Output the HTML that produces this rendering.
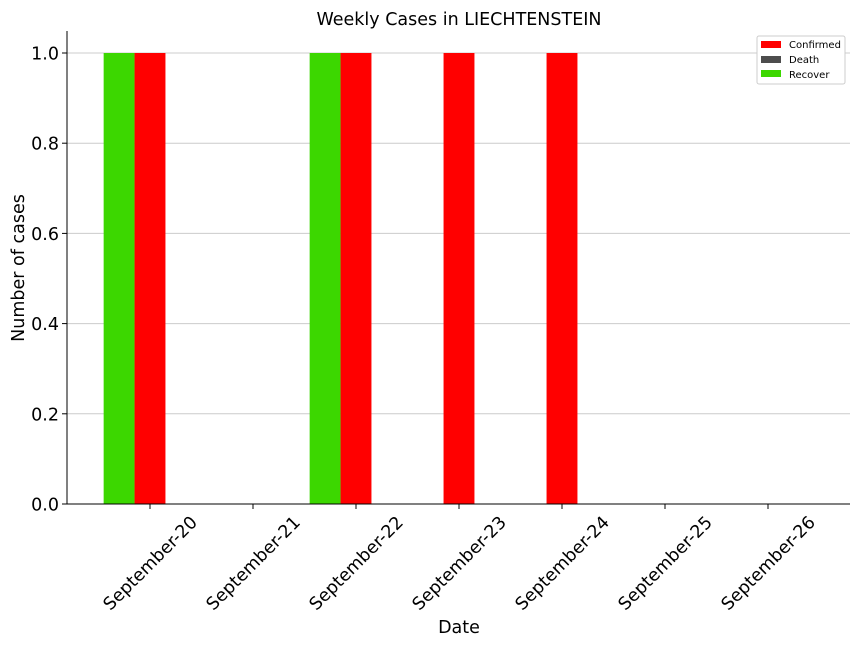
<!DOCTYPE html>
<html><head><meta charset="utf-8"><style>
body{margin:0;background:#fff;}
svg text{font-family:"DejaVu Sans","Liberation Sans",sans-serif;}
</style></head><body>
<svg id="chart" width="864" height="648" xmlns="http://www.w3.org/2000/svg">
<rect width="864" height="648" fill="#fff"/>
<text x="459" y="25" font-size="17.5" text-anchor="middle">Weekly Cases in LIECHTENSTEIN</text>
<g id="grid"></g>
<g id="bars"></g>
<g id="axes"></g>
<text x="459" y="633" font-size="17.5" text-anchor="middle">Date</text>
<text transform="translate(24,268) rotate(-90)" font-size="17.5" text-anchor="middle">Number of cases</text>
<g>
<rect x="757" y="36" width="88" height="48" fill="#fff" stroke="#ccc" rx="2"/>
<rect x="761" y="41" width="20" height="7" fill="#ff0000"/>
<text x="789" y="48" font-size="10">Confirmed</text>
<rect x="761" y="56" width="20" height="7" fill="#4d4d4d"/>
<text x="789" y="63" font-size="10">Death</text>
<rect x="761" y="70" width="20" height="7" fill="#3cd700"/>
<text x="789" y="78" font-size="10">Recover</text>
</g>
</svg>
<script>
const categories=["September-20","September-21","September-22","September-23","September-24","September-25","September-26"];
const confirmed=[1,0,1,1,1,0,0];
const death=[0,0,0,0,0,0,0];
const recover=[1,0,1,0,0,0,0];
const yTicks=[0,0.2,0.4,0.6,0.8,1.0];
const NS="http://www.w3.org/2000/svg";
const L=67,R=850,T=31,B=504;
function y(v){return 504-v*451;}
function x(i){return 150+i*103;}
const bw=30.9;
function mk(t,a,p){const e=document.createElementNS(NS,t);for(const k in a)e.setAttribute(k,a[k]);p.appendChild(e);return e;}
const grid=document.getElementById('grid'),bars=document.getElementById('bars'),axes=document.getElementById('axes');
yTicks.forEach(v=>{
 if(v>0){const g=mk('line',{x1:L,x2:R,y1:y(v),y2:y(v),stroke:'#cccccc','stroke-width':1},grid);
 
 }
 mk('line',{x1:L-5,x2:L,y1:y(v),y2:y(v),stroke:'#000'},axes);
 const t=mk('text',{x:L-8,y:y(v)+6.5,'font-size':17.5,'text-anchor':'end'},axes);
 t.textContent=v.toFixed(1);
 
 
});
const series=[[recover,'#3cd700',-1,'bar-recover'],[confirmed,'#ff0000',0,'bar-confirmed'],[death,'#4d4d4d',1,'bar-death']];
categories.forEach((c,i)=>{
 series.forEach(s=>{
  const v=s[0][i];if(v<=0)return;
  const cx=x(i)+s[2]*bw;
  const r=mk('rect',{x:cx-bw/2,y:y(v),width:bw,height:y(0)-y(v),fill:s[1]},bars);
  
  
 });
 mk('line',{x1:x(i),x2:x(i),y1:B,y2:B+5,stroke:'#000'},axes);
 const t=mk('text',{transform:`translate(${x(i)},${B+59}) rotate(-45)`,'font-size':17.5,'text-anchor':'middle',dy:'0.35em'},axes);
 t.textContent=c;
 
 
});
mk('line',{x1:L,x2:L,y1:T,y2:B,stroke:'#000'},axes);
mk('line',{x1:L,x2:R,y1:B,y2:B,stroke:'#000'},axes);
</script>
</body></html>
